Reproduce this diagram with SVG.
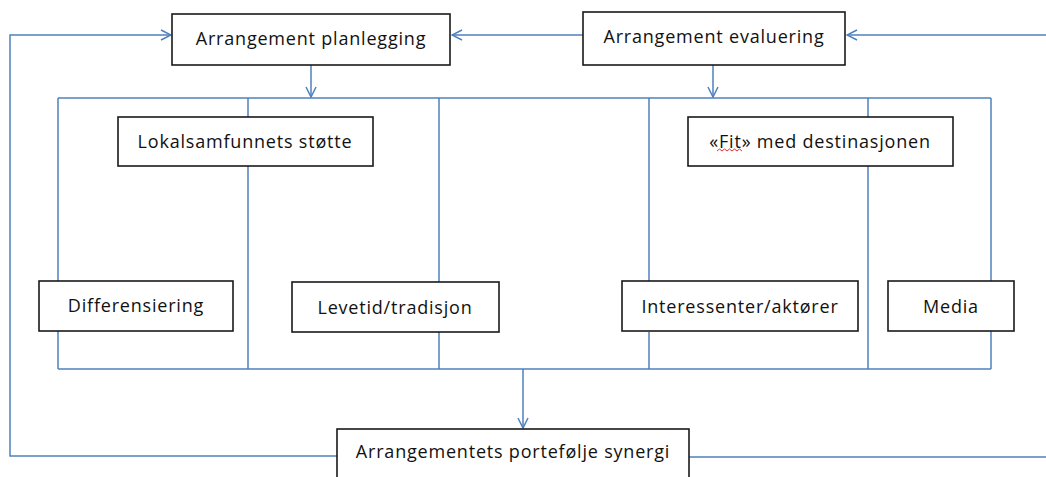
<svg xmlns="http://www.w3.org/2000/svg" width="1046" height="477" viewBox="0 0 1046 477">
<style>
.box{fill:#fff;stroke:#1a1a1a;stroke-width:1.6}
.lbl{font-family:"Open Sans","Liberation Sans",Arial,sans-serif;font-size:18px;letter-spacing:0.8px;fill:#111;text-anchor:middle;dominant-baseline:central}
.ln{fill:none;stroke:#4f81bd;stroke-width:1.5}
</style>
<defs>
<marker id="arr" viewBox="0 0 12 12" refX="11" refY="6" markerWidth="12" markerHeight="12" markerUnits="userSpaceOnUse" orient="auto">
<path d="M1,1 L11,6 L1,11" fill="none" stroke="#4f81bd" stroke-width="1.5"/>
</marker>
</defs>
<rect width="1046" height="477" fill="#fff"/>
<g id="connectors">
<path class="ln" d="M337,456 L10,456 L10,35 L171,35" marker-end="url(#arr)"/>
<path class="ln" d="M583,35 L452,35" marker-end="url(#arr)"/>
<path class="ln" d="M1046,35 L847,35" marker-end="url(#arr)"/>
<path class="ln" d="M311,65 L311,97" marker-end="url(#arr)"/>
<path class="ln" d="M713,65 L713,97" marker-end="url(#arr)"/>
<path class="ln" d="M58,98 L991,98"/>
<path class="ln" d="M58,369 L991,369"/>
<path class="ln" d="M58,98 L58,281 M58,331 L58,369"/>
<path class="ln" d="M248,98 L248,117 M248,166 L248,369"/>
<path class="ln" d="M439,98 L439,282 M439,332 L439,369"/>
<path class="ln" d="M649,98 L649,282 M649,332 L649,369"/>
<path class="ln" d="M868,98 L868,117 M868,166 L868,369"/>
<path class="ln" d="M991,98 L991,281 M991,331 L991,369"/>
<path class="ln" d="M523,369 L523,428" marker-end="url(#arr)"/>
<path class="ln" d="M689,457 L1046,457"/>
</g>
<g id="planlegging"><rect class="box" x="172" y="14" width="278" height="51"/><text class="lbl" x="311" y="38">Arrangement planlegging</text></g>
<g id="evaluering"><rect class="box" x="583" y="12" width="262" height="53"/><text class="lbl" x="714" y="36">Arrangement evaluering</text></g>
<g id="lokalsamfunn"><rect class="box" x="118" y="117" width="255" height="49"/><text class="lbl" x="245" y="141">Lokalsamfunnets støtte</text></g>
<g id="fit"><rect class="box" x="688" y="117" width="265" height="49"/><text class="lbl" x="820" y="141">«Fit» med destinasjonen</text>
<path d="M717,151 l2.5,-2 l2.5,2 l2.5,-2 l2.5,2 l2.5,-2 l2.5,2 l2.5,-2 l2.5,2 l2.5,-2 l2.5,2" fill="none" stroke="#e03030" stroke-width="1"/></g>
<g id="differensiering"><rect class="box" x="39" y="281" width="194" height="50"/><text class="lbl" x="136" y="305">Differensiering</text></g>
<g id="levetid"><rect class="box" x="292" y="282" width="207" height="50"/><text class="lbl" x="395" y="307">Levetid/tradisjon</text></g>
<g id="interessenter"><rect class="box" x="622" y="281" width="236" height="50"/><text class="lbl" x="740" y="306">Interessenter/aktører</text></g>
<g id="media"><rect class="box" x="888" y="281" width="126" height="50"/><text class="lbl" x="951" y="306">Media</text></g>
<g id="portefolje"><rect class="box" x="337" y="429" width="352" height="60"/><text class="lbl" x="513" y="451">Arrangementets portefølje synergi</text></g>
</svg>
